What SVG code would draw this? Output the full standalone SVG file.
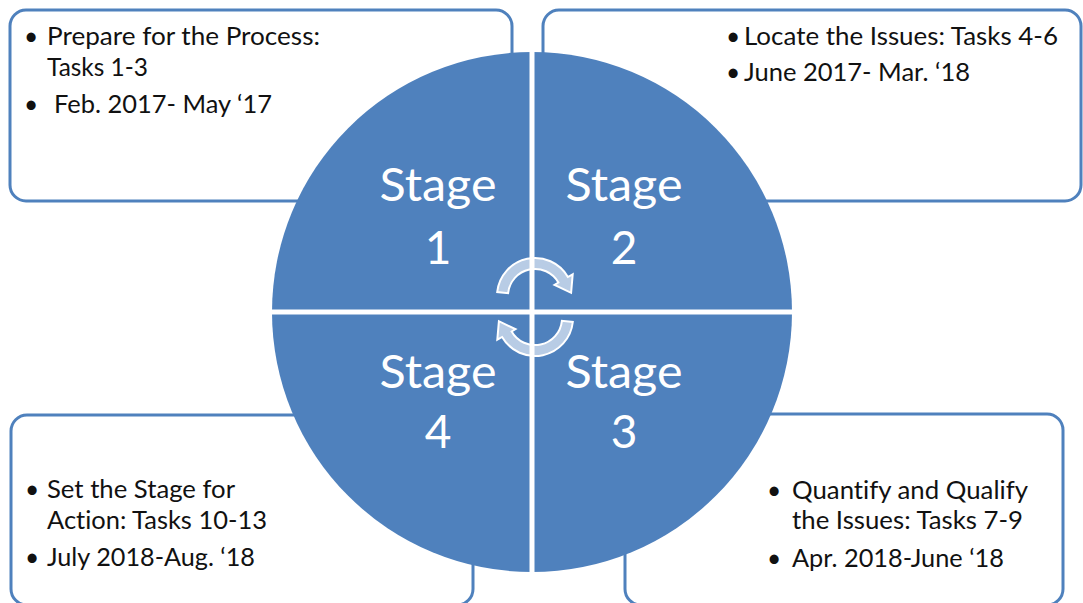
<svg xmlns="http://www.w3.org/2000/svg" width="1083" height="603" viewBox="0 0 1083 603">
  <style>
    .box { fill: #ffffff; stroke: #4f81bd; stroke-width: 3; }
    .body { font-family: Lato, "Liberation Sans", sans-serif; font-size: 24.5px; fill: #111111; font-variant-ligatures: none; }
    .dot { font-family: Lato, "Liberation Sans", sans-serif; font-size: 24.5px; fill: #111111; text-anchor: middle; }
    .stage { font-family: Lato, "Liberation Sans", sans-serif; font-size: 46px; fill: #ffffff; text-anchor: middle; }
    .quad { fill: #4f81bd; }
    .split { stroke: #ffffff; stroke-width: 5; }
    .cycle { fill: #ffffff; fill-opacity: 0.6; stroke: #ffffff; stroke-width: 2; stroke-linejoin: miter; }
  </style>
  <defs>
    <!-- curved cycle arrow, running clockwise over the top of the hub -->
    <path id="cycleArrow" d="M497.2,292 A38,38 0 0 1 567.9,277 L572.7,274.3 L571.1,292.8 L554.5,284.8 L558.4,282.5 A27,27 0 0 0 508.1,293.2 Z"/>
  </defs>

  <!-- description panels, one per stage -->
  <g id="panel-stage1">
    <rect class="box" x="10" y="10" width="502" height="191" rx="16"/>
    <text class="dot" x="31" y="45">•</text>
    <text class="body" x="47" y="45" textLength="273" lengthAdjust="spacingAndGlyphs">Prepare for the Process:</text>
    <text class="body" x="47" y="76" textLength="101" lengthAdjust="spacingAndGlyphs">Tasks 1-3</text>
    <text class="dot" x="31" y="113">•</text>
    <text class="body" x="54" y="113" textLength="218" lengthAdjust="spacingAndGlyphs">Feb. 2017- May ‘17</text>
  </g>
  <g id="panel-stage2">
    <rect class="box" x="543" y="10" width="538" height="191" rx="16"/>
    <text class="dot" x="733" y="45">•</text>
    <text class="body" x="744" y="45" textLength="314" lengthAdjust="spacingAndGlyphs">Locate the Issues: Tasks 4-6</text>
    <text class="dot" x="733" y="81">•</text>
    <text class="body" x="744" y="81" textLength="226" lengthAdjust="spacingAndGlyphs">June 2017- Mar. ‘18</text>
  </g>
  <g id="panel-stage4">
    <rect class="box" x="11" y="415" width="462" height="190" rx="16"/>
    <text class="dot" x="32" y="498">•</text>
    <text class="body" x="47" y="498" textLength="188" lengthAdjust="spacingAndGlyphs">Set the Stage for</text>
    <text class="body" x="47" y="529" textLength="220" lengthAdjust="spacingAndGlyphs">Action: Tasks 10-13</text>
    <text class="dot" x="32" y="566">•</text>
    <text class="body" x="47" y="566" textLength="208" lengthAdjust="spacingAndGlyphs">July 2018-Aug. ‘18</text>
  </g>
  <g id="panel-stage3">
    <rect class="box" x="625" y="414" width="438" height="191" rx="16"/>
    <text class="dot" x="774" y="499">•</text>
    <text class="body" x="792" y="499" textLength="236" lengthAdjust="spacingAndGlyphs">Quantify and Qualify</text>
    <text class="body" x="792" y="529" textLength="231" lengthAdjust="spacingAndGlyphs">the Issues: Tasks 7-9</text>
    <text class="dot" x="774" y="567">•</text>
    <text class="body" x="792" y="567" textLength="212" lengthAdjust="spacingAndGlyphs">Apr. 2018-June ‘18</text>
  </g>

  <!-- central hub split into four quadrants -->
  <g id="hub">
    <circle class="quad" cx="532" cy="312" r="260"/>
    <line class="split" x1="532" y1="48" x2="532" y2="576"/>
    <line class="split" x1="268" y1="312" x2="796" y2="312"/>
  </g>
  <g id="stage1">
    <text class="stage" x="438" y="201" textLength="117" lengthAdjust="spacingAndGlyphs">Stage</text>
    <text class="stage" x="438" y="264">1</text>
  </g>
  <g id="stage2">
    <text class="stage" x="624" y="201" textLength="117" lengthAdjust="spacingAndGlyphs">Stage</text>
    <text class="stage" x="624" y="264">2</text>
  </g>
  <g id="stage3">
    <text class="stage" x="624" y="388" textLength="117" lengthAdjust="spacingAndGlyphs">Stage</text>
    <text class="stage" x="624" y="448">3</text>
  </g>
  <g id="stage4">
    <text class="stage" x="438" y="388" textLength="117" lengthAdjust="spacingAndGlyphs">Stage</text>
    <text class="stage" x="438" y="448">4</text>
  </g>

  <!-- cycle arrows linking the stages -->
  <g id="connectors">
    <use href="#cycleArrow" class="cycle"/>
    <use href="#cycleArrow" class="cycle" transform="rotate(180 535 307)"/>
  </g>
</svg>
